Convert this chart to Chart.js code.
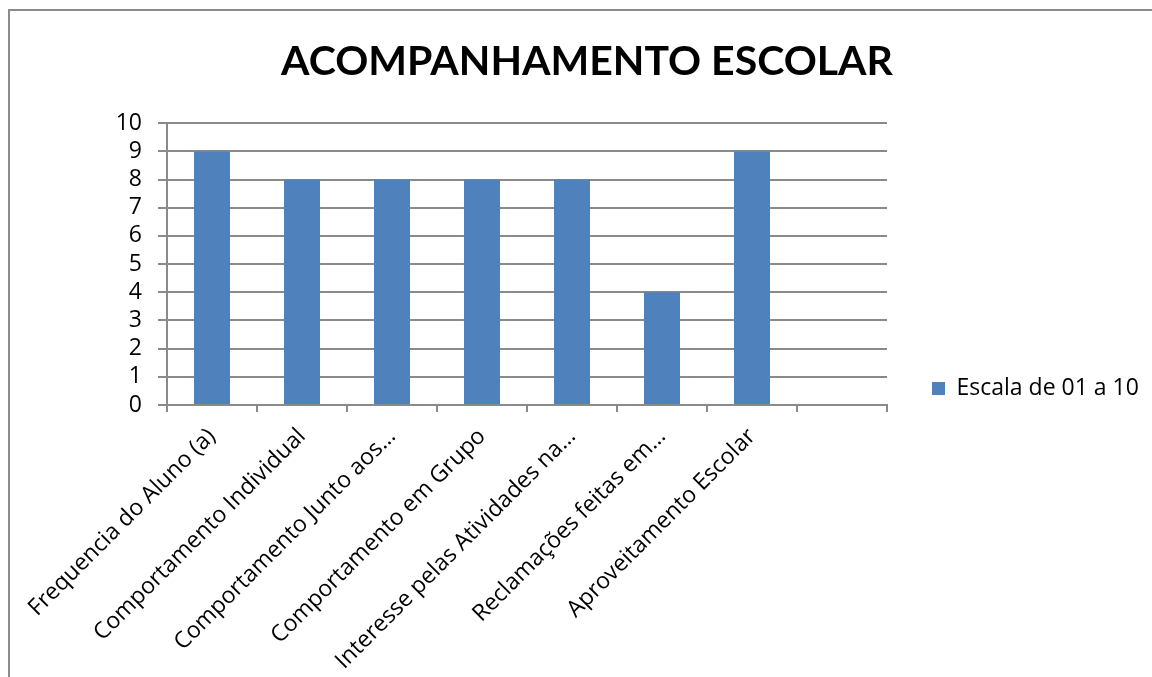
<!DOCTYPE html>
<html>
<head>
<meta charset="utf-8">
<script src="https://cdn.jsdelivr.net/npm/chart.js@4/dist/chart.umd.min.js"></script>
<style>
  html, body { margin: 0; padding: 0; background: #fff; }
  #wrap { position: absolute; left: 0; top: 0; width: 1152px; height: 677px; }
  #frame { position: absolute; left: 8px; top: 9px; width: 1200px; height: 700px;
           border-left: 2px solid #8c8c8c; border-top: 2px solid #8c8c8c; }
  canvas { position: absolute; left: 0; top: 0; }
</style>
</head>
<body>
<div id="wrap">
  <div id="frame"></div>
  <canvas id="c" width="1152" height="677"></canvas>
</div>
<script>
const titleText = 'ACOMPANHAMENTO ESCOLAR';
const seriesName = 'Escala de 01 a 10';
const categories = [
  'Frequencia do Aluno (a)',
  'Comportamento Individual',
  'Comportamento Junto aos…',
  'Comportamento em Grupo',
  'Interesse pelas Atividades na…',
  'Reclamações feitas em…',
  'Aproveitamento Escolar',
  ''
];
const values = [9, 8, 8, 8, 8, 4, 9, null];
const yTicks = [0, 1, 2, 3, 4, 5, 6, 7, 8, 9, 10];

const FONT = '"Open Sans", Lato, sans-serif';
const TFONT = 'Lato, "Open Sans", sans-serif';
const GRID = '#8a8a8a';

const legendWidthFix = {
  id: 'legendWidthFix',
  afterInit(chart) {
    const lg = chart.legend;
    if (!lg) return;
    const orig = lg.fit.bind(lg);
    lg.fit = function () { orig(); this.width = 265; };
  }
};

new Chart(document.getElementById('c'), {
  type: 'bar',
  data: {
    labels: categories,
    datasets: [{
      label: seriesName,
      data: values,
      backgroundColor: '#4f81bd',
      borderWidth: 0,
      barPercentage: 0.4,
      categoryPercentage: 1.0
    }]
  },
  plugins: [legendWidthFix],
  options: {
    responsive: false,
    animation: false,
    layout: { padding: { left: 22, right: 0, top: 0, bottom: 0 } },
    plugins: {
      title: {
        display: true,
        text: titleText,
        color: '#000',
        font: { family: TFONT, size: 41, weight: 'bold', lineHeight: 1.2 },
        padding: { top: 37, bottom: 37 }
      },
      legend: {
        position: 'right',
        align: 'center',
        title: {
          display: true,
          text: ' ',
          font: { family: FONT, size: 10, lineHeight: 1 },
          padding: { top: 0, bottom: 90 }
        },
        labels: {
          color: '#000',
          font: { family: FONT, size: 23 },
          boxWidth: 13,
          boxHeight: 13,
          padding: 45
        }
      },
      tooltip: { enabled: false }
    },
    scales: {
      x: {
        offset: true,
        grid: {
          offset: true,
          drawOnChartArea: false,
          drawTicks: true,
          tickLength: 7,
          color: GRID,
          lineWidth: 2
        },
        border: { display: true, color: GRID, width: 2 },
        ticks: {
          color: '#000',
          font: { family: FONT, size: 23 },
          minRotation: 45,
          maxRotation: 45,
          autoSkip: false,
          padding: 11
        },
        afterFit: (s) => { s.height = 272; }
      },
      y: {
        min: 0,
        max: 10,
        afterBuildTicks: (s) => { s.ticks = yTicks.map(v => ({ value: v })); },
        grid: {
          color: GRID,
          lineWidth: 2,
          drawTicks: true,
          tickLength: 9
        },
        border: { display: true, color: GRID, width: 2 },
        ticks: {
          color: '#000',
          font: { family: FONT, size: 23 },
          padding: 16,
          autoSkip: false
        },
        afterFit: (s) => { s.width = 145; }
      }
    }
  }
});
</script>
</body>
</html>
